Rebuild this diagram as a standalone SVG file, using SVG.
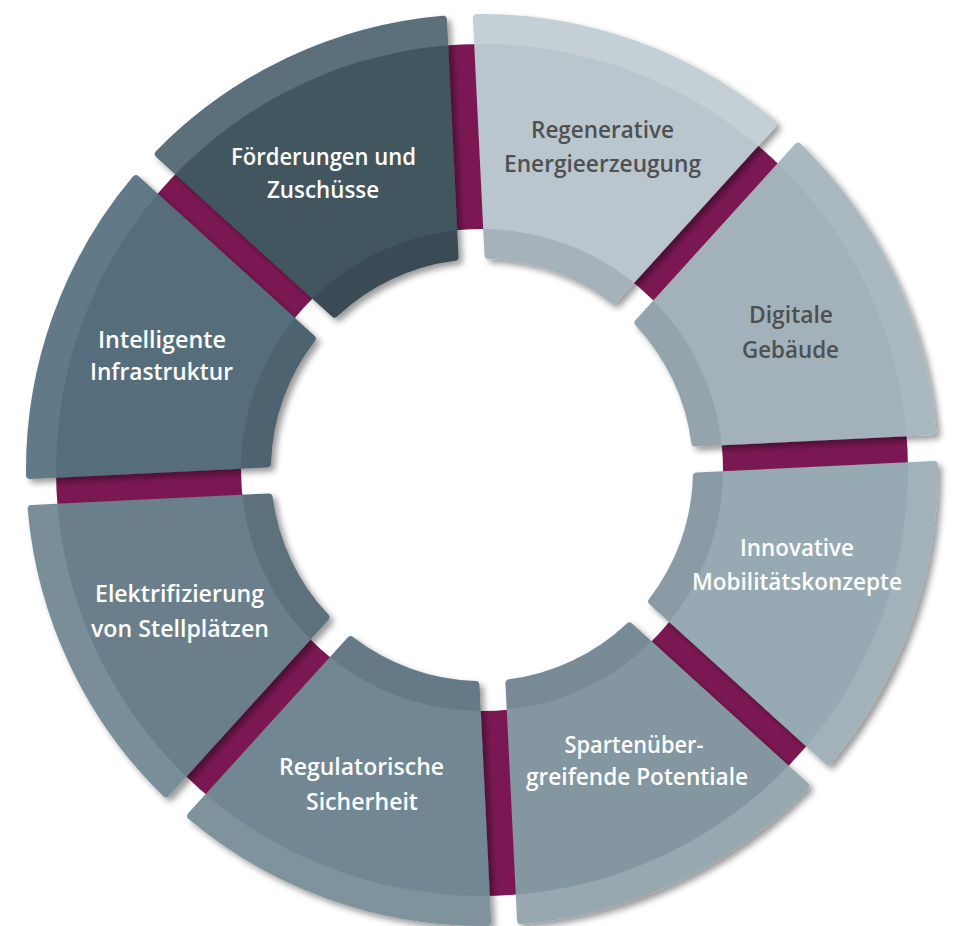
<svg xmlns="http://www.w3.org/2000/svg" xmlns:xlink="http://www.w3.org/1999/xlink" width="957" height="926" viewBox="0 0 957 926">
<style>
.lbl{font-family:"Open Sans","Noto Sans","Liberation Sans",sans-serif;font-weight:600;font-size:23px;text-anchor:middle}
.w{fill:#ffffff}
.d{fill:#4e5052}
.sh{filter:url(#sh)}
</style>
<defs>
<path id="segshape" d="M423.81,-157.15 A452,452 0 0 1 423.81,157.15 L204.52,66.31 A215,215 0 0 0 204.52,-66.31 Z" fill="#fff" stroke="#fff" stroke-width="8" stroke-linejoin="round"/>
<filter id="sh" filterUnits="userSpaceOnUse" x="0" y="0" width="957" height="926">
<feDropShadow dx="4" dy="4" stdDeviation="3" flood-color="#000" flood-opacity="0.4"/>
</filter>
<mask id="m0" maskUnits="userSpaceOnUse" x="0" y="0" width="957" height="926"><use href="#segshape" transform="translate(482 470) rotate(-70.3)"/></mask>
<mask id="m1" maskUnits="userSpaceOnUse" x="0" y="0" width="957" height="926"><use href="#segshape" transform="translate(482 470) rotate(-25.3)"/></mask>
<mask id="m2" maskUnits="userSpaceOnUse" x="0" y="0" width="957" height="926"><use href="#segshape" transform="translate(482 470) rotate(19.7)"/></mask>
<mask id="m3" maskUnits="userSpaceOnUse" x="0" y="0" width="957" height="926"><use href="#segshape" transform="translate(482 470) rotate(64.7)"/></mask>
<mask id="m4" maskUnits="userSpaceOnUse" x="0" y="0" width="957" height="926"><use href="#segshape" transform="translate(482 470) rotate(109.7)"/></mask>
<mask id="m5" maskUnits="userSpaceOnUse" x="0" y="0" width="957" height="926"><use href="#segshape" transform="translate(482 470) rotate(154.7)"/></mask>
<mask id="m6" maskUnits="userSpaceOnUse" x="0" y="0" width="957" height="926"><use href="#segshape" transform="translate(482 470) rotate(199.7)"/></mask>
<mask id="m7" maskUnits="userSpaceOnUse" x="0" y="0" width="957" height="926"><use href="#segshape" transform="translate(482 470) rotate(244.7)"/></mask>
</defs>
<rect width="957" height="926" fill="#ffffff"/>
<g id="connectors">
<circle cx="482" cy="470" r="333.5" fill="none" stroke="#7b1854" stroke-width="185"/>
</g>
<g id="regenerative">
<g class="sh"><g mask="url(#m0)"><circle cx="482" cy="470" r="462" fill="#c5d0d6"/><circle cx="482" cy="470" r="426" fill="#bac6cd"/><circle cx="482" cy="470" r="241" fill="#a5b2ba"/></g></g>
<text class="lbl d" x="602.5" y="138" textLength="143" lengthAdjust="spacingAndGlyphs">Regenerative</text>
<text class="lbl d" x="602.5" y="172" textLength="197" lengthAdjust="spacingAndGlyphs">Energieerzeugung</text>
</g>
<g id="digitale">
<g class="sh"><g mask="url(#m1)"><circle cx="482" cy="470" r="462" fill="#aab8c0"/><circle cx="482" cy="470" r="426" fill="#a2b1ba"/><circle cx="482" cy="470" r="241" fill="#95a3ac"/></g></g>
<text class="lbl d" x="791" y="323" textLength="84" lengthAdjust="spacingAndGlyphs">Digitale</text>
<text class="lbl d" x="790.5" y="358" textLength="97" lengthAdjust="spacingAndGlyphs">Gebäude</text>
</g>
<g id="innovative">
<g class="sh"><g mask="url(#m2)"><circle cx="482" cy="470" r="462" fill="#a2b2ba"/><circle cx="482" cy="470" r="426" fill="#97a9b2"/><circle cx="482" cy="470" r="241" fill="#8a9ba5"/></g></g>
<text class="lbl w" x="797" y="556" textLength="114" lengthAdjust="spacingAndGlyphs">Innovative</text>
<text class="lbl w" x="797" y="590" textLength="210" lengthAdjust="spacingAndGlyphs">Mobilitätskonzepte</text>
</g>
<g id="spartenuebergreifend">
<g class="sh"><g mask="url(#m3)"><circle cx="482" cy="470" r="462" fill="#97a8b1"/><circle cx="482" cy="470" r="426" fill="#8496a0"/><circle cx="482" cy="470" r="241" fill="#788a96"/></g></g>
<text class="lbl w" x="634" y="753" textLength="139" lengthAdjust="spacingAndGlyphs">Spartenüber-</text>
<text class="lbl w" x="637" y="785" textLength="222" lengthAdjust="spacingAndGlyphs">greifende Potentiale</text>
</g>
<g id="regulatorisch">
<g class="sh"><g mask="url(#m4)"><circle cx="482" cy="470" r="462" fill="#7f939d"/><circle cx="482" cy="470" r="426" fill="#718793"/><circle cx="482" cy="470" r="241" fill="#657a86"/></g></g>
<text class="lbl w" x="361.5" y="775" textLength="165" lengthAdjust="spacingAndGlyphs">Regulatorische</text>
<text class="lbl w" x="362" y="810" textLength="112" lengthAdjust="spacingAndGlyphs">Sicherheit</text>
</g>
<g id="elektrifizierung">
<g class="sh"><g mask="url(#m5)"><circle cx="482" cy="470" r="462" fill="#798e99"/><circle cx="482" cy="470" r="426" fill="#6a7f8b"/><circle cx="482" cy="470" r="241" fill="#5d717d"/></g></g>
<text class="lbl w" x="179.5" y="602" textLength="169" lengthAdjust="spacingAndGlyphs">Elektrifizierung</text>
<text class="lbl w" x="180" y="637" textLength="178" lengthAdjust="spacingAndGlyphs">von Stellplätzen</text>
</g>
<g id="intelligente">
<g class="sh"><g mask="url(#m6)"><circle cx="482" cy="470" r="462" fill="#627a88"/><circle cx="482" cy="470" r="426" fill="#566d7b"/><circle cx="482" cy="470" r="241" fill="#4e6470"/></g></g>
<text class="lbl w" x="162" y="348" textLength="128" lengthAdjust="spacingAndGlyphs">Intelligente</text>
<text class="lbl w" x="161.5" y="380" textLength="143" lengthAdjust="spacingAndGlyphs">Infrastruktur</text>
</g>
<g id="foerderungen">
<g class="sh"><g mask="url(#m7)"><circle cx="482" cy="470" r="462" fill="#5b6f7c"/><circle cx="482" cy="470" r="426" fill="#43565f"/><circle cx="482" cy="470" r="241" fill="#3a4b56"/></g></g>
<text class="lbl w" x="323.5" y="165" textLength="185" lengthAdjust="spacingAndGlyphs">Förderungen und</text>
<text class="lbl w" x="323" y="198" textLength="112" lengthAdjust="spacingAndGlyphs">Zuschüsse</text>
</g>
</svg>
